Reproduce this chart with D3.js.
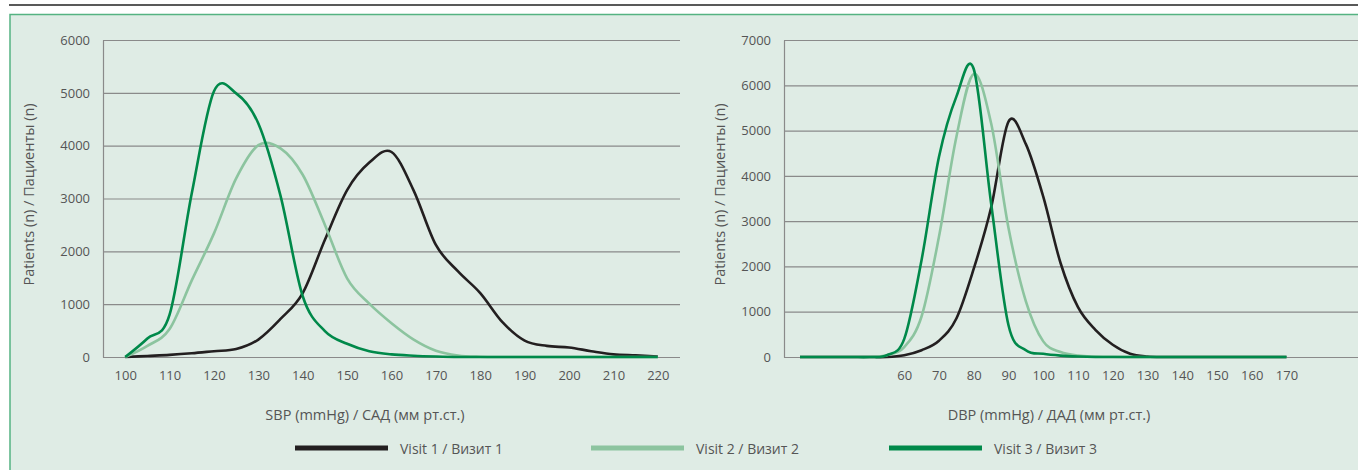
<!DOCTYPE html>
<html>
<head>
<meta charset="utf-8">
<script src="https://cdn.jsdelivr.net/npm/d3@7"></script>
<style>
  body { margin: 0; background: #fff; }
  svg text { font-family: "Open Sans", "Noto Sans", sans-serif; fill: #555; }
  .tick text { font-size: 13px; }
  .grid line { stroke: #8a8a8a; stroke-width: 1.2; }
  .grid path { display: none; }
  .axis-title { font-size: 14.5px; }
  .legend-text { font-size: 14px; }
</style>
</head>
<body>
<div id="chart"></div>
<script>
// SBP panel (left), readings every 5 mmHg
var sbpCategories = [100, 105, 110, 115, 120, 125, 130, 135, 140, 145, 150, 155, 160,
    165, 170, 175, 180, 185, 190, 195, 200, 205, 210, 215, 220];
var sbpTickLabels = [100, 110, 120, 130, 140, 150, 160, 170, 180, 190, 200, 210, 220];
var sbpVisit1 = [0, 20, 40, 70, 110, 150, 330, 720, 1210, 2220, 3160, 3680, 3880,
    3150, 2120, 1620, 1210, 660, 310, 210, 180, 110, 50, 30, 10];
var sbpVisit2 = [0, 210, 530, 1450, 2340, 3380, 4010, 3950, 3450, 2500, 1490, 1010, 640,
    330, 120, 30, 5, 0, 0, 0, 0, 0, 0, 0, 0];
var sbpVisit3 = [0, 350, 800, 3100, 5030, 4990, 4420, 3050, 1150, 490, 250, 110, 50,
    25, 10, 0, 0, 0, 0, 0, 0, 0, 0, 0, 0];
var sbpTicks = [0, 1000, 2000, 3000, 4000, 5000, 6000];

// DBP panel (right), readings every 5 mmHg
var dbpCategories = [30, 35, 40, 45, 50, 55, 60, 65, 70, 75, 80, 85, 90, 95, 100,
    105, 110, 115, 120, 125, 130, 135, 140, 145, 150, 155, 160, 165, 170];
var dbpTickLabels = [60, 70, 80, 90, 100, 110, 120, 130, 140, 150, 160, 170];
var dbpVisit1 = [0, 0, 0, 0, 0, 0, 40, 150, 360, 850, 1950, 3300, 5200, 4700, 3540,
    2070, 1100, 600, 270, 70, 10, 0, 0, 0, 0, 0, 0, 0, 0];
var dbpVisit2 = [0, 0, 0, 0, 0, 40, 220, 900, 2660, 4860, 6250, 5160, 2850, 1230, 345,
    110, 30, 10, 5, 0, 0, 0, 0, 0, 0, 0, 0, 0, 0];
var dbpVisit3 = [0, 0, 0, 0, 0, 40, 400, 2150, 4420, 5750, 6360, 3390, 700, 150, 70,
    30, 10, 0, 0, 0, 0, 0, 0, 0, 0, 0, 0, 0, 0];
var dbpTicks = [0, 1000, 2000, 3000, 4000, 5000, 6000, 7000];

var seriesNames = ['Visit 1 / Визит 1', 'Visit 2 / Визит 2', 'Visit 3 / Визит 3'];
var seriesColors = ['#231f20', '#8cc49f', '#00894a'];

var svgWidth = 1358;
var svgHeight = 470;

var svg = d3.select('#chart')
    .append('svg')
    .attr('width', svgWidth)
    .attr('height', svgHeight);

// top rule and panel
svg.append('line')
    .attr('x1', 9).attr('x2', svgWidth)
    .attr('y1', 5).attr('y2', 5)
    .attr('stroke', '#222').attr('stroke-width', 1.5);

svg.append('rect')
    .attr('x', 10).attr('y', 14.5)
    .attr('width', svgWidth + 20).attr('height', 480)
    .attr('fill', '#dfece5')
    .attr('stroke', '#55b382').attr('stroke-width', 1.5);

var plotTop = 40, plotBottom = 357;

function drawPanel(opt) {
    // first / last category centres
    var x = d3.scalePoint()
        .domain(opt.categories)
        .range(opt.xRange);

    var y = d3.scaleLinear()
        .domain([0, d3.max(opt.ticks)])
        .range([plotBottom, plotTop]);

    var g = svg.append('g');

    // horizontal grid
    g.append('g')
        .attr('class', 'grid')
        .attr('transform', `translate(${opt.left}, 0)`)
        .call(d3.axisLeft(y).tickValues(opt.ticks).tickSize(-opt.gridWidth).tickFormat(''));

    // left axis line + labels
    var yAxis = g.append('g')
        .attr('transform', `translate(${opt.left}, 0)`)
        .call(d3.axisLeft(y).tickValues(opt.ticks).tickFormat(d3.format('d'))
            .tickSize(0).tickSizeOuter(0).tickPadding(13));
    yAxis.select('.domain').attr('stroke', '#8a8a8a').attr('stroke-width', 1.2);

    // bottom labels
    var xAxis = g.append('g')
        .attr('transform', `translate(0, ${plotBottom})`)
        .call(d3.axisBottom(x).tickValues(opt.tickLabels).tickSize(0).tickPadding(14));
    xAxis.select('.domain').remove();

    // smoothed line, like a spreadsheet "smoothed line" chart
    var line = d3.line()
        .x((d, i) => x(opt.categories[i]))
        .y(d => y(d))
        .curve(d3.curveCardinal.tension(0));

    opt.series.forEach((s, i) => {
        g.append('path')
            .datum(s)
            .attr('fill', 'none')
            .attr('stroke', seriesColors[i])
            .attr('stroke-width', 2.6)
            .attr('stroke-linejoin', 'round')
            .attr('d', line);
    });

    // axis titles
    g.append('text')
        .attr('class', 'axis-title')
        .attr('text-anchor', 'middle')
        .attr('x', opt.xTitleX)
        .attr('y', 420)
        .text(opt.xTitle);

    g.append('text')
        .attr('class', 'axis-title')
        .attr('text-anchor', 'middle')
        .attr('transform', `translate(${opt.yTitleX}, ${(plotTop + plotBottom) / 2 - 4}) rotate(-90)`)
        .text('Patients (n) / Пациенты (n)');
}

drawPanel({
    categories: sbpCategories,
    tickLabels: sbpTickLabels,
    series: [sbpVisit1, sbpVisit2, sbpVisit3],
    ticks: sbpTicks,
    left: 103,
    xRange: [125.2, 657.8],
    gridWidth: 577,
    xTitle: 'SBP (mmHg) / САД (мм рт.ст.)',
    xTitleX: 365,
    yTitleX: 34
});

drawPanel({
    categories: dbpCategories,
    tickLabels: dbpTickLabels,
    series: [dbpVisit1, dbpVisit2, dbpVisit3],
    ticks: dbpTicks,
    left: 784,
    xRange: [800, 1286.5],
    gridWidth: 600,
    xTitle: 'DBP (mmHg) / ДАД (мм рт.ст.)',
    xTitleX: 1049,
    yTitleX: 725
});

// legend
var legendX = [295, 591, 889];
var legend = svg.append('g');
seriesNames.forEach((name, i) => {
    legend.append('line')
        .attr('x1', legendX[i]).attr('x2', legendX[i] + 93)
        .attr('y1', 448).attr('y2', 448)
        .attr('stroke', seriesColors[i])
        .attr('stroke-width', 5);
    legend.append('text')
        .attr('class', 'legend-text')
        .attr('x', legendX[i] + 105)
        .attr('y', 448)
        .attr('dominant-baseline', 'central')
        .text(name);
});
</script>
</body>
</html>
